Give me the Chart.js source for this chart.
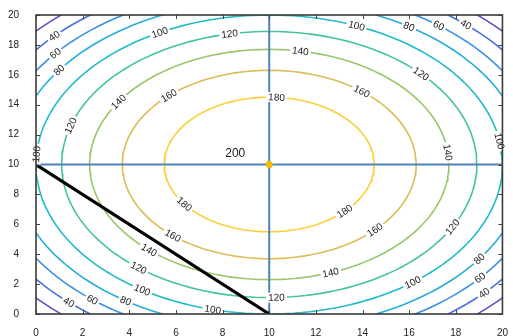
<!DOCTYPE html>
<html>
<head>
<meta charset="utf-8">
<script src="https://cdn.jsdelivr.net/npm/chart.js@4/dist/chart.umd.min.js"></script>
<style>
  html, body { margin: 0; padding: 0; background: #fff; }
  #wrap { width: 513px; height: 336px; position: relative; }
</style>
</head>
<body>
<div id="wrap"><canvas id="chart"></canvas></div>
<script>
// contour levels and their radii around the peak
const levels = [20, 40, 60, 80, 100, 120, 140, 160, 180];
const radii = [13.4, 12.6, 11.8, 11.0, 10.0, 8.9, 7.7, 6.3, 4.5];
const peakX = [10];
const peakY = [10];
const peakValue = [200];
const cutX = [0, 10];
const cutY = [10, 0];
const crossX = [10];
const crossY = [10];

const levelColors = [
  "#5b4fc0", "#4a70e0", "#3c90e4", "#25aedc", "#1fbcc8",
  "#44c49a", "#98c66a", "#dcbb58", "#f9cf3a"
];

// where each level's label sits, as an angle (deg) round the peak
const labelAngles = [
  [],
  [137, 48, -133, -43],
  [141, 52, -130, -40],
  [145, 57, -124, -35],
  [118, 68, 176, 9, -123, -104, -52],
  [101, 163, 43, -28, -129, -88],
  [147, 80, 6, -70, -132],
  [133, 51, -44, -131],
  [86, -44, -144]
];

const cx = peakX[0], cy = peakY[0];

function ring(r) {
  const pts = [];
  for (let i = 0; i <= 360; i += 2) {
    const a = i * Math.PI / 180;
    pts.push({ x: cx + r * Math.cos(a), y: cy + r * Math.sin(a) });
  }
  return pts;
}

const datasets = [];

// overlays first so they end up drawn on top
datasets.push({
  data: [{ x: peakX[0], y: peakY[0] }],
  pointRadius: 3.5,
  pointBackgroundColor: "#f5b800",
  pointBorderWidth: 0,
  showLine: false
});
datasets.push({
  data: cutX.map((x, i) => ({ x: x, y: cutY[i] })),
  borderColor: "#000",
  borderWidth: 3.2,
  pointRadius: 0,
  showLine: true
});
datasets.push({
  data: [{ x: crossX[0], y: 0 }, { x: crossX[0], y: 20 }],
  borderColor: "#4f81bd",
  borderWidth: 2,
  pointRadius: 0,
  showLine: true
});
datasets.push({
  data: [{ x: 0, y: crossY[0] }, { x: 20, y: crossY[0] }],
  borderColor: "#4f81bd",
  borderWidth: 2,
  pointRadius: 0,
  showLine: true
});

levels.forEach((lv, i) => {
  datasets.push({
    data: ring(radii[i]),
    borderColor: levelColors[i],
    borderWidth: 1.6,
    pointRadius: 0,
    showLine: true,
    tension: 0
  });
});

const contourLabels = {
  id: "contourLabels",
  afterDatasetsDraw(chart) {
    const ctx = chart.ctx;
    const xs = chart.scales.x, ys = chart.scales.y;
    ctx.save();
    ctx.font = "10px 'Liberation Sans', Arial, sans-serif";
    ctx.textAlign = "center";
    ctx.textBaseline = "middle";
    levels.forEach((lv, i) => {
      const r = radii[i];
      labelAngles[i].forEach(deg => {
        const a = deg * Math.PI / 180;
        const px = xs.getPixelForValue(cx + r * Math.cos(a));
        const py = ys.getPixelForValue(cy + r * Math.sin(a));
        const px2 = xs.getPixelForValue(cx + r * Math.cos(a + 0.01));
        const py2 = ys.getPixelForValue(cy + r * Math.sin(a + 0.01));
        let rot = Math.atan2(py2 - py, px2 - px);
        if (rot > Math.PI / 2) rot -= Math.PI;
        if (rot < -Math.PI / 2) rot += Math.PI;
        const txt = String(lv);
        const w = ctx.measureText(txt).width;
        ctx.save();
        ctx.translate(px, py);
        ctx.rotate(rot);
        ctx.fillStyle = "#fff";
        ctx.fillRect(-w / 2 - 2, -5, w + 4, 10);
        ctx.fillStyle = "#222";
        ctx.fillText(txt, 0, 0.5);
        ctx.restore();
      });
    });
    // peak value
    const dx = xs.getPixelForValue(peakX[0]);
    const dy = ys.getPixelForValue(peakY[0]);
    ctx.font = "12px 'Liberation Sans', Arial, sans-serif";
    ctx.fillStyle = "#222";
    ctx.fillText(String(peakValue[0]), dx - 34, dy - 11);
    ctx.restore();
  }
};

const frame = {
  id: "frame",
  afterDraw(chart) {
    const ctx = chart.ctx;
    const a = chart.chartArea;
    const xs = chart.scales.x, ys = chart.scales.y;
    ctx.save();
    ctx.strokeStyle = "#444";
    ctx.lineWidth = 1;
    ctx.beginPath();
    xs.ticks.forEach(t => {
      const p = Math.round(xs.getPixelForValue(t.value)) + 0.5;
      ctx.moveTo(p, a.bottom); ctx.lineTo(p, a.bottom - 4);
      ctx.moveTo(p, a.top); ctx.lineTo(p, a.top + 4);
    });
    ys.ticks.forEach(t => {
      const p = Math.round(ys.getPixelForValue(t.value)) + 0.5;
      ctx.moveTo(a.left, p); ctx.lineTo(a.left + 4, p);
      ctx.moveTo(a.right, p); ctx.lineTo(a.right - 4, p);
    });
    ctx.stroke();
    ctx.lineWidth = 1.6;
    ctx.strokeStyle = "#3a3a3a";
    ctx.strokeRect(a.left, a.top, a.right - a.left, a.bottom - a.top);
    ctx.restore();
  }
};

new Chart(document.getElementById("chart"), {
  type: "scatter",
  data: { datasets: datasets },
  options: {
    responsive: true,
    maintainAspectRatio: false,
    animation: false,
    events: [],
    layout: { autoPadding: false, padding: { top: 13, right: 5, left: 0, bottom: 0 } },
    plugins: { legend: { display: false }, tooltip: { enabled: false } },
    scales: {
      x: {
        type: "linear",
        min: 0,
        max: 20,
        grid: { display: false },
        border: { display: false },
        ticks: {
          stepSize: 2,
          padding: 5,
          color: "#222",
          font: { family: "'Liberation Sans', Arial, sans-serif", size: 10 }
        },
        afterFit(s) { s.height = 22; }
      },
      y: {
        type: "linear",
        min: 0,
        max: 20,
        grid: { display: false },
        border: { display: false },
        ticks: {
          stepSize: 2,
          padding: 9,
          color: "#222",
          font: { family: "'Liberation Sans', Arial, sans-serif", size: 10 }
        },
        afterFit(s) { s.width = 36; }
      }
    }
  },
  plugins: [contourLabels, frame]
});
</script>
</body>
</html>
